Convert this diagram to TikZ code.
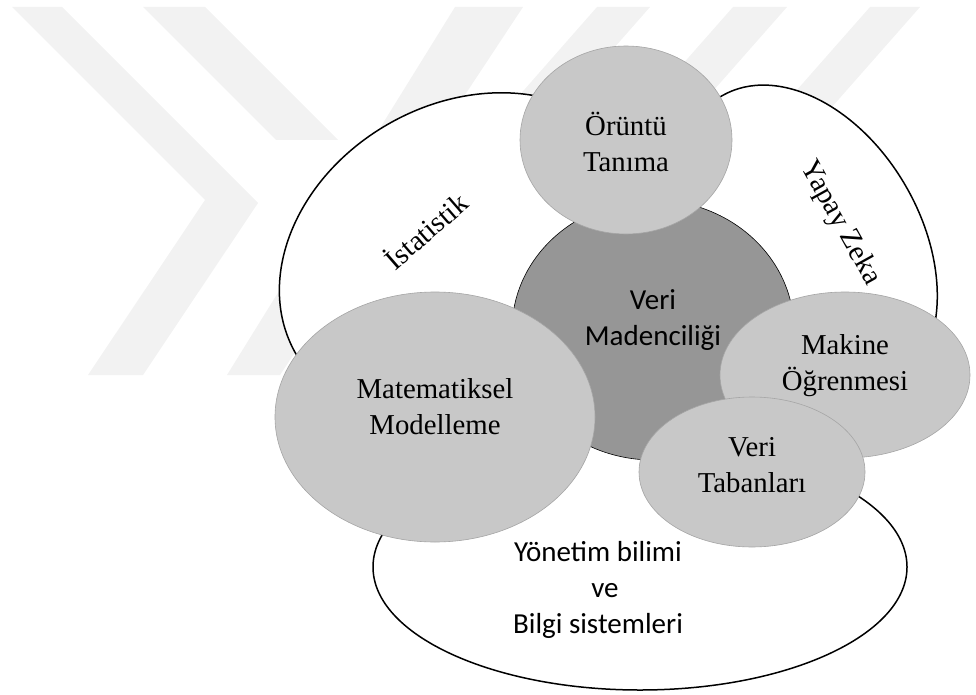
\documentclass[tikz,border=0pt]{standalone}
\usepackage{fontspec}
\setmainfont{Liberation Serif}
\newfontfamily\calibri{Carlito}
\usetikzlibrary{shapes.geometric}
\definecolor{bubblegray}{RGB}{200,200,200}
\definecolor{coregray}{RGB}{150,150,150}
\definecolor{edgegray}{RGB}{165,165,165}
\definecolor{markgray}{RGB}{242,242,242}

\tikzset{
  outline/.style={ellipse, draw=black, line width=1.5pt, fill=white, inner sep=0pt},
  bubble/.style={ellipse, draw=edgegray, line width=0.6pt, fill=bubblegray, inner sep=0pt},
  core/.style={ellipse, draw=black, line width=0.6pt, fill=coregray, inner sep=0pt},
  seriftext/.style={font=\fontsize{28.8}{36}\selectfont, align=center, inner sep=0pt},
  sanstext/.style={font=\calibri\fontsize{29}{36}\selectfont, align=center, inner sep=0pt},
  watermark/.style={fill=markgray, draw=none}
}

\begin{document}
\begin{tikzpicture}[x=1pt, y=-1pt]
  \useasboundingbox (0,0) rectangle (976,695);

  % faint watermark
  \fill[watermark] (12,7) -- (62,7) -- (258,203) -- (143,375) -- (88,375) -- (205,200) -- cycle;
  \fill[watermark] (455,7) -- (523,7) -- (280,375) -- (227,375) -- cycle;
  \fill[watermark] (143,7) -- (205,7) -- (338,140) -- (276,140) -- cycle;
  \fill[watermark] (597,7) -- (650,7) -- (476,205) -- (423,205) -- cycle;
  \fill[watermark] (733,7) -- (787,7) -- (617,200) -- (563,200) -- cycle;
  \fill[watermark] (870,7) -- (920,7) -- (750,200) -- (700,200) -- cycle;

  % outer fields
  \node[outline, minimum width=388pt, minimum height=306pt, rotate=30] (ist) at (464,257) {};
  \node[outline, minimum width=340pt, minimum height=228pt, rotate=-60] (yz) at (807,243) {};
  \node[outline, minimum width=534pt, minimum height=246pt] (ybs) at (640,567) {};

  % inner bubbles
  \node[core, minimum width=282pt, minimum height=260pt] (vm) at (653,330) {};
  \node[bubble, minimum width=212pt, minimum height=188pt] (ort) at (626,140) {};
  \node[bubble, minimum width=320pt, minimum height=250pt] (mm) at (435,417) {};
  \node[bubble, minimum width=250pt, minimum height=166pt] (mo) at (845,375) {};
  \node[bubble, minimum width=226pt, minimum height=150pt] (vt) at (752,472) {};

  % labels
  \node[seriftext] (ortlbl) at ([yshift=-2pt]ort.center) {Örüntü\\Tanıma};
  \node[sanstext] (vmlbl) at ([yshift=10pt]vm.center) {Veri\\Madenciliği};
  \node[seriftext] (mmlbl) at ([yshift=10pt]mm.center) {Matematiksel\\Modelleme};
  \node[seriftext] (molbl) at ([yshift=9pt]mo.center) {Makine\\Öğrenmesi};
  \node[seriftext] (vtlbl) at ([yshift=7pt]vt.center) {Veri\\Tabanları};
  \node[sanstext] (ybslbl) at (598,590) {Yönetim bilimi\\\hspace*{14pt}ve\\Bilgi sistemleri};
  \node[seriftext, rotate=41] (istlbl) at (425,230) {İstatistik};
  \node[seriftext, rotate=-61] (yzlbl) at (840,223) {Yapay Zeka};
\end{tikzpicture}
\end{document}
